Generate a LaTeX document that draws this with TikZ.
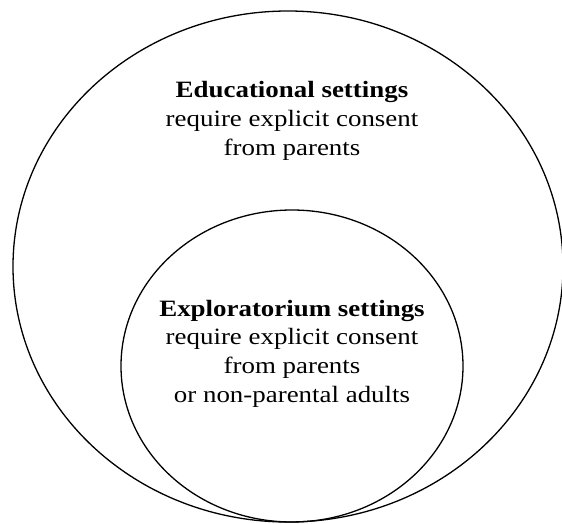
\documentclass[tikz,border=0pt]{standalone}
\usepackage{fontspec}
\setmainfont[FakeStretch=1.15]{Liberation Serif}
\begin{document}
\begin{tikzpicture}[x=1pt,y=-1pt,
  ring/.style={draw=black,line width=1.3pt},
  label/.style={align=center,inner sep=0pt,anchor=base,font=\fontsize{23.4}{28.6}\selectfont}]
\useasboundingbox (0,0) rectangle (562,523);
\draw[ring] (288,266.5) ellipse [x radius=275, y radius=255.5];
\draw[ring] (292,366) ellipse [x radius=171, y radius=156];
\node[label] (edu) at (292,155) {\textbf{Educational settings}\\require explicit consent\\from parents};
\node[label] (exp) at (292,402) {\textbf{Exploratorium settings}\\require explicit consent\\from parents\\or non-parental adults};
\end{tikzpicture}
\end{document}
